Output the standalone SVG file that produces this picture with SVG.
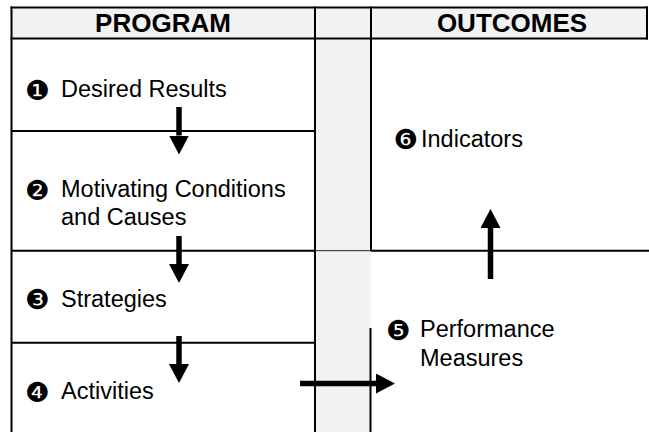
<svg xmlns="http://www.w3.org/2000/svg" width="649" height="432" viewBox="0 0 649 432">
<style>
.hdr{font-family:"Liberation Sans",Arial,sans-serif;font-weight:bold;font-size:26px;fill:#000;text-anchor:middle}
.lbl{font-family:"Liberation Sans",Arial,sans-serif;font-size:23.5px;fill:#000}
.num{font-family:"DejaVu Sans",sans-serif;font-size:27.5px;fill:#000}
.rule{stroke:#000;stroke-width:2;fill:none}
.thin{stroke:#222;stroke-width:1;fill:none}
.arr{stroke:#000;stroke-width:5.5;fill:none;marker-end:url(#head)}
</style>
<defs>
<marker id="head" markerUnits="userSpaceOnUse" viewBox="0 0 19 20" markerWidth="19" markerHeight="20" refX="0" refY="10" orient="auto">
<path d="M0,0 L19,10 L0,20 Z" fill="#000"/>
</marker>
</defs>
<rect width="649" height="432" fill="#fff"/>
<g id="table">
<rect x="11.5" y="7.5" width="636" height="31" fill="#f2f2f2"/>
<rect x="315" y="7.5" width="56" height="424.5" fill="#f2f2f2"/>
<line class="rule" x1="10.5" y1="7.5" x2="648" y2="7.5"/>
<line class="rule" x1="10.5" y1="38.5" x2="648" y2="38.5"/>
<line class="rule" x1="11.5" y1="6.5" x2="11.5" y2="432"/>
<line class="rule" x1="315" y1="6.5" x2="315" y2="432"/>
<line class="rule" x1="371" y1="6.5" x2="371" y2="251"/>
<line class="rule" x1="370.5" y1="328" x2="370.5" y2="432"/>
<line class="rule" x1="647" y1="6.5" x2="647" y2="39.5"/>
<line class="rule" x1="11.5" y1="131" x2="315" y2="131"/>
<line class="rule" x1="11.5" y1="250.7" x2="315" y2="250.7"/>
<line class="thin" x1="315" y1="250.7" x2="371" y2="250.7"/>
<line class="rule" x1="371" y1="250.7" x2="649" y2="250.7"/>
<line class="rule" x1="11.5" y1="342.7" x2="315" y2="342.7"/>
<text class="hdr" x="163" y="32">PROGRAM</text>
<text class="hdr" x="512" y="32">OUTCOMES</text>
</g>
<g id="node1">
<text class="num" x="25" y="99.5">❶</text>
<text class="lbl" x="61" y="97">Desired Results</text>
</g>
<g id="node2">
<text class="num" x="25" y="199.5">❷</text>
<text class="lbl" x="61" y="197">Motivating Conditions</text>
<text class="lbl" x="61" y="224.5">and Causes</text>
</g>
<g id="node3">
<text class="num" x="25" y="309.2">❸</text>
<text class="lbl" x="61" y="306.7">Strategies</text>
</g>
<g id="node4">
<text class="num" x="25" y="401.5">❹</text>
<text class="lbl" x="61" y="399">Activities</text>
</g>
<g id="node5">
<text class="num" x="386" y="339.5">❺</text>
<text class="lbl" x="420" y="337">Performance</text>
<text class="lbl" x="420" y="366">Measures</text>
</g>
<g id="node6">
<text class="num" x="393.5" y="149.2">❻</text>
<text class="lbl" x="421" y="146.7">Indicators</text>
</g>
<g id="connectors">
<line class="arr" x1="179" y1="107" x2="179" y2="135.5"/>
<line class="arr" x1="179" y1="236" x2="179" y2="264"/>
<line class="arr" x1="179" y1="336" x2="179" y2="364"/>
<line class="arr" x1="300" y1="383.5" x2="376" y2="383.5"/>
<line class="arr" x1="490.5" y1="279" x2="490.5" y2="228"/>
</g>
</svg>
